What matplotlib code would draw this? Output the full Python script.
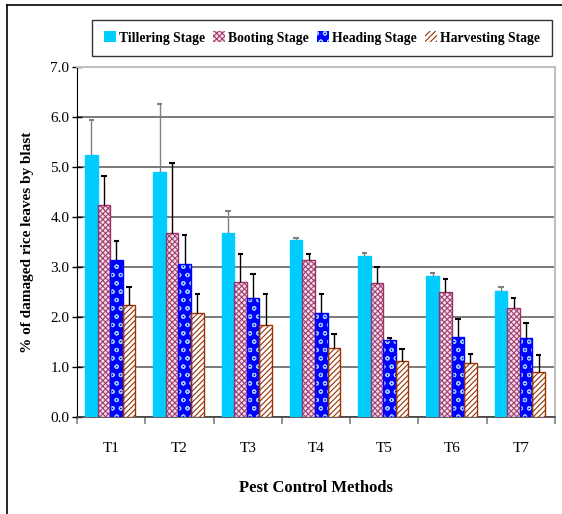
import numpy as np
import matplotlib.pyplot as plt
from matplotlib.patches import Patch
from matplotlib.lines import Line2D

plt.rcParams['font.family'] = ['Liberation Serif', 'DejaVu Serif']

methods = ['T1', 'T2', 'T3', 'T4', 'T5', 'T6', 'T7']
stages = ['Tillering Stage', 'Booting Stage', 'Heading Stage', 'Harvesting Stage']

tillering = [5.25, 4.91, 3.69, 3.55, 3.22, 2.82, 2.52]
booting = [4.25, 3.69, 2.71, 3.15, 2.69, 2.51, 2.18]
heading = [3.15, 3.06, 2.38, 2.09, 1.55, 1.61, 1.59]
harvesting = [2.25, 2.09, 1.85, 1.38, 1.13, 1.09, 0.91]

tillering_err = [0.70, 1.35, 0.44, 0.04, 0.07, 0.07, 0.08]
booting_err = [0.58, 1.39, 0.55, 0.11, 0.32, 0.26, 0.21]
heading_err = [0.38, 0.58, 0.48, 0.38, 0.04, 0.36, 0.30]
harvesting_err = [0.35, 0.38, 0.62, 0.29, 0.23, 0.18, 0.34]

series = [tillering, booting, heading, harvesting]
errors = [tillering_err, booting_err, heading_err, harvesting_err]

# face, hatch colour, hatch, border, error bar colour
styles = [
    ('#00ccff', '#00ccff', None, '#00ccff', '#808080'),
    ('#f7dde9', '#a04070', 'xxxxxx', '#993366', 'black'),
    ('#0000ff', '#99ccff', 'oo', '#0000ff', 'black'),
    ('#ffffff', '#993300', '//////', '#993300', 'black'),
]

plt.rcParams['hatch.linewidth'] = 0.8

fig = plt.figure(figsize=(5.62, 5.14), dpi=100)
ax = fig.add_axes([77/562, 1 - 417/514, (555 - 77)/562, (417 - 67)/514])

x = np.arange(len(methods))
w = 0.184
for i, (vals, err, st) in enumerate(zip(series, errors, styles)):
    face, hcol, hatch, edge, ecol = st
    pos = x + (i - 1.5) * w - 0.015
    ax.bar(pos, vals, w, color=face, edgecolor=hcol, hatch=hatch, linewidth=0, zorder=3)
    ax.bar(pos, vals, w, fill=False, edgecolor=edge, linewidth=1.0, zorder=4)
    tops = np.array(vals) + np.array(err)
    ax.vlines(pos, vals, tops, color=ecol, linewidth=1.0, zorder=5)
    ax.hlines(tops, pos - 0.04, pos + 0.04, color=ecol, linewidth=1.5, zorder=5)

ax.set_xlim(-0.5, len(methods) - 0.5)
ax.set_ylim(0, 7)
ax.set_yticks(np.arange(0, 7.1, 1))
ax.set_yticklabels(['%.1f' % v for v in np.arange(0, 7.1, 1)], fontsize=11)
ax.tick_params(axis='y', direction='inout', length=7, width=1, pad=2)
ax.set_xticks(np.arange(-0.5, len(methods), 1))
ax.set_xticklabels([])
ax.tick_params(axis='x', which='major', direction='out', length=5, color='#808080', width=1.2)
ax.set_xticks(x, minor=True)
ax.set_xticklabels(methods, minor=True, fontsize=11)
ax.tick_params(axis='x', which='minor', length=0, pad=18)

ax.yaxis.grid(True, color='#707070', linewidth=1.3, zorder=0)
ax.set_axisbelow(True)
ax.spines['left'].set_color('black')
ax.spines['bottom'].set_color('#404040')
ax.spines['bottom'].set_linewidth(1.2)
for s in ['top', 'right']:
    ax.spines[s].set_color('#c0c0c0')
    ax.spines[s].set_linewidth(1.5)

ax.set_ylabel('% of damaged rice leaves by blast', fontsize=11, fontweight='bold', labelpad=12)
ax.set_xlabel('Pest Control Methods', fontsize=12, fontweight='bold', labelpad=18)

handles = [Patch(facecolor=st[0], edgecolor=st[1], hatch=st[2], linewidth=0) for st in styles]
leg = fig.legend(handles, stages, loc='center', bbox_to_anchor=(322/562, 1 - 38/514), ncol=4,
                 prop={'weight': 'bold', 'size': 9.8}, frameon=True, fancybox=False,
                 edgecolor='black', handlelength=0.85, handleheight=0.85, handletextpad=0.25,
                 columnspacing=0.6, borderpad=0.85, borderaxespad=0)
leg.get_frame().set_linewidth(1.0)

# outer frame
fig.add_artist(Line2D([7/562, 7/562], [0, 1 - 5/514], color='black', linewidth=1.2))
fig.add_artist(Line2D([7/562, 1], [1 - 5/514, 1 - 5/514], color='black', linewidth=1.2))

fig.savefig('out.png', dpi=100)
